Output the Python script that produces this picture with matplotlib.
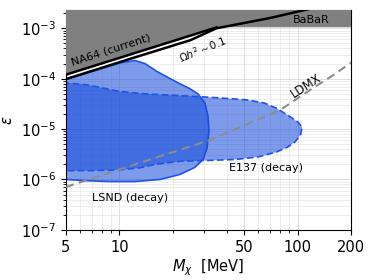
import matplotlib
matplotlib.use("Agg")
import matplotlib.pyplot as plt

# NA64 (current) limit and relic target line
na64_m = [5, 35]
na64_eps = [1.2e-4, 1.04e-3]
relic_m = [5, 12, 25, 35, 70, 115]
relic_eps = [0.98e-4, 2.6e-4, 5.8e-4, 1.0e-3, 1.6e-3, 2.4e-3]
babar_eps = 1.05e-3

# LSND (decay) contour
lsnd_m = [4.8, 5, 7.76, 10.05, 12.2, 13.9, 16.3, 21.3, 24.9, 27.6, 30.2, 31.4, 31.8,
          31.0, 29.5, 26.5, 21.9, 16.9, 12.2, 8.8, 6.4, 5, 4.8]
lsnd_eps = [9.7e-5, 9.7e-5, 1.55e-4, 2.05e-4, 2.3e-4, 2.0e-4, 1.38e-4, 8.3e-5, 6.3e-5, 5.0e-5,
            3.3e-5, 1.8e-5, 9.1e-6, 4.2e-6, 2.5e-6, 1.74e-6, 1.26e-6, 1.0e-6, 9.1e-7,
            9.1e-7, 9.5e-7, 1.0e-6, 1.0e-6]

# E137 (decay) contour
e137_m = [4.8, 5, 6.5, 8, 10, 14, 20, 28, 35, 52, 65, 76, 90, 100, 106, 104, 97, 88, 76,
          60, 45, 33, 22, 16, 13, 10, 7, 5, 4.8]
e137_eps = [8.3e-5, 8.3e-5, 7.6e-5, 6.6e-5, 5.6e-5, 5.0e-5, 4.7e-5, 4.4e-5, 4.2e-5, 3.8e-5,
            3.3e-5, 2.6e-5, 1.8e-5, 1.4e-5, 1.1e-5, 7.8e-6, 5.6e-6, 4.4e-6, 3.5e-6, 2.8e-6,
            2.5e-6, 2.4e-6, 2.3e-6, 2.0e-6, 1.7e-6, 1.55e-6, 1.5e-6, 1.5e-6, 1.5e-6]

# LDMX projection
ldmx_m = [5, 10, 20, 32, 50, 80, 120, 160, 200]
ldmx_eps = [7.1e-7, 1.58e-6, 3.5e-6, 6.0e-6, 1.18e-5, 2.4e-5, 6.3e-5, 1.2e-4, 2.1e-4]

fig = plt.figure(figsize=(3.74, 2.80), dpi=100)
ax = fig.add_axes([0.176, 0.179, 0.763, 0.785])
ax.set_xscale('log')
ax.set_yscale('log')
ax.set_xlim(5, 200)
ax.set_ylim(1e-7, 2.3e-3)

ax.set_axisbelow(True)
ax.grid(True, which='major', color='#d9d9d9', lw=0.6)
ax.grid(True, which='minor', color='#e6e6e6', lw=0.5)

# grey excluded region: above NA64 and BaBaR
grey_m = [4.8, na64_m[0], na64_m[1], 210, 210, 4.8]
grey_eps = [na64_eps[0], na64_eps[0], babar_eps, babar_eps, 1, 1]
ax.fill(grey_m, grey_eps, facecolor='#808080', edgecolor='none', zorder=3)

blue = '#1249da'
edge = '#1f55e6'
ax.fill(lsnd_m, lsnd_eps, facecolor=blue, alpha=0.55, lw=0, zorder=2)
ax.plot(lsnd_m, lsnd_eps, color=edge, lw=1.2, zorder=2)
ax.fill(e137_m, e137_eps, facecolor=blue, alpha=0.55, lw=0, zorder=2)
ax.plot(e137_m, e137_eps, color=edge, lw=1.2, ls='--', dashes=(4, 2), zorder=2)

ax.plot(ldmx_m, ldmx_eps, color='#8c8c8c', lw=1.5, ls='--', dashes=(4, 2.5), zorder=4)

ax.plot(na64_m, na64_eps, color='black', lw=1.8, zorder=5)
ax.plot(relic_m, relic_eps, color='black', lw=1.8, zorder=5)

ax.text(8.95, 3.7e-4, 'NA64 (current)', fontsize=8, rotation=18,
        ha='center', va='center', rotation_mode='anchor', zorder=6)
ax.text(29.5, 3.8e-4, r'$\Omega h^2 \sim 0.1$', fontsize=7.5, rotation=22,
        ha='center', va='center', rotation_mode='anchor', zorder=6)
ax.text(120, 1.45e-3, 'BaBaR', fontsize=8, ha='center', va='center', zorder=6)
ax.text(111, 7.2e-5, 'LDMX', fontsize=8.5, rotation=33,
        ha='center', va='center', rotation_mode='anchor', zorder=6)
ax.text(66.5, 1.66e-6, 'E137 (decay)', fontsize=8, ha='center', va='center', zorder=6)
ax.text(11.4, 4.2e-7, 'LSND (decay)', fontsize=8, ha='center', va='center', zorder=6)

ax.set_xticks([5, 10, 50, 100, 200])
ax.set_xticklabels(['5', '10', '50', '100', '200'])
ax.set_yticks([1e-7, 1e-6, 1e-5, 1e-4, 1e-3])
ax.tick_params(labelsize=10.5)
ax.set_xlabel(r'$M_\chi$  [MeV]', fontsize=10.5, labelpad=2)
ax.set_ylabel(r'$\epsilon$', fontsize=10.5)

fig.savefig('out.png', dpi=100)
